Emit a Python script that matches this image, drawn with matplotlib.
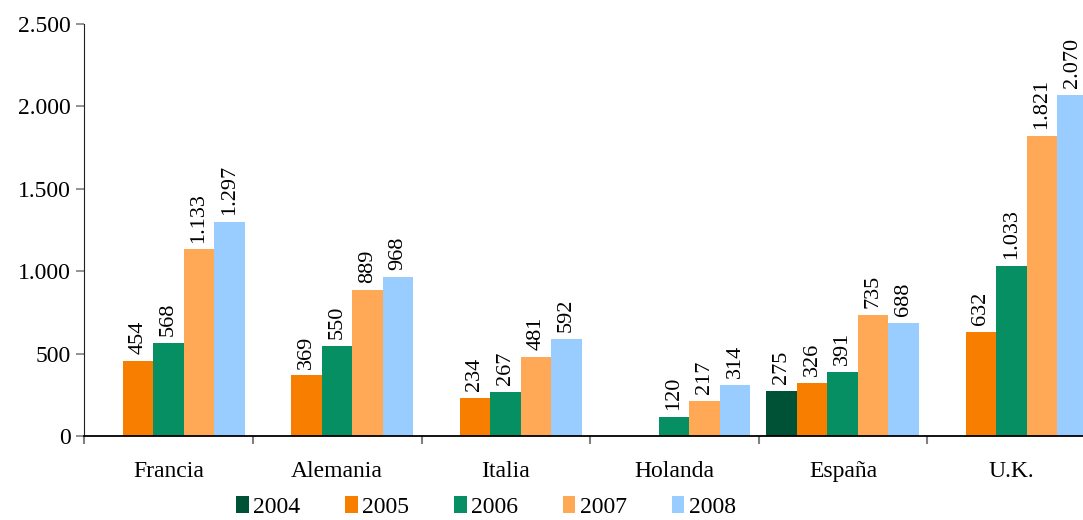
import numpy as np
import matplotlib.pyplot as plt
from matplotlib.ticker import FuncFormatter

paises = ['Francia', 'Alemania', 'Italia', 'Holanda', 'España', 'U.K.']
anios = ['2004', '2005', '2006', '2007', '2008']
colores = ['#005236', '#F87E00', '#068F63', '#FFA957', '#99CCFF']

# valores por año (None = sin dato)
v2004 = [None, None, None, None, 275, None]
v2005 = [454, 369, 234, None, 326, 632]
v2006 = [568, 550, 267, 120, 391, 1033]
v2007 = [1133, 889, 481, 217, 735, 1821]
v2008 = [1297, 968, 592, 314, 688, 2070]
series = [v2004, v2005, v2006, v2007, v2008]

yticks = [0, 500, 1000, 1500, 2000, 2500]

def miles(v):
    return f"{int(v):,}".replace(',', '.')

plt.rcParams['font.family'] = ['Liberation Serif', 'DejaVu Serif']

fig = plt.figure(figsize=(10.83, 5.2), dpi=100)
ax = fig.add_axes([84.3/1083, 1 - 436.3/520, 1011.6/1083, 412.3/520])

bw = 0.181
off = 0.0457
x = np.arange(len(paises))
for k, (vals, col, lab) in enumerate(zip(series, colores, anios)):
    xs = x + off + (k + 0.5)*bw
    hs = [np.nan if v is None else v for v in vals]
    ax.bar(xs, hs, width=bw, color=col, label=lab, linewidth=0)
    for xi, v in zip(xs, vals):
        if v is None:
            continue
        ax.annotate(miles(v), (xi, v), xytext=(0, 5), textcoords='offset points',
                    rotation=90, ha='center', va='bottom', fontsize=16)

ax.set_xlim(0, len(paises))
ax.set_ylim(0, 2500)
ax.set_yticks(yticks)
ax.yaxis.set_major_formatter(FuncFormatter(lambda v, p: miles(v)))
ax.set_xticks(np.arange(len(paises) + 1))
ax.set_xticklabels([])
ax.set_xticks(x + 0.5, minor=True)
ax.set_xticklabels(paises, minor=True)
ax.tick_params(axis='x', which='minor', length=0, pad=18, labelsize=17)
ax.tick_params(axis='x', which='major', length=6, width=1.5, color='#808080')
ax.tick_params(axis='y', length=6, width=1.2, color='#808080', labelsize=17, pad=4)

ax.spines['top'].set_visible(False)
ax.spines['right'].set_visible(False)
ax.spines['left'].set_color('#202020')
ax.spines['bottom'].set_linewidth(1.3)

fig.legend(loc='center', bbox_to_anchor=(0.449, 0.025), ncol=5, frameon=False,
           fontsize=17, handlelength=0.52, handleheight=0.7, handletextpad=0.2,
           columnspacing=1.9, borderaxespad=0)

fig.savefig('out.png', dpi=100)
